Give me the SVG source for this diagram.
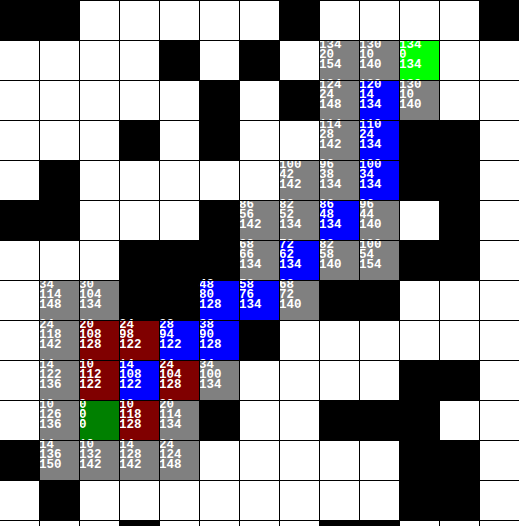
<svg xmlns="http://www.w3.org/2000/svg" width="519" height="526" viewBox="0 0 519 526">
<style>
.w{fill:#ffffff}.b{fill:#000000}.g{fill:#808080}.u{fill:#0000ff}.l{fill:#00ff00}.d{fill:#008000}.r{fill:#800000}
text{font-family:"Liberation Mono","DejaVu Sans Mono",monospace;font-weight:bold;font-size:12.5px;fill:#ffffff}
.grid line{stroke:#000000;stroke-width:1}
</style>
<rect x="0" y="0" width="519" height="526" class="w"/>
<g id="walls" class="b">
<rect x="0" y="0" width="80" height="40"/><rect x="280" y="0" width="40" height="40"/><rect x="480" y="0" width="40" height="40"/>
<rect x="160" y="40" width="40" height="40"/><rect x="240" y="40" width="40" height="40"/>
<rect x="200" y="80" width="40" height="40"/><rect x="280" y="80" width="40" height="40"/>
<rect x="120" y="120" width="40" height="40"/><rect x="200" y="120" width="40" height="40"/><rect x="400" y="120" width="80" height="40"/>
<rect x="40" y="160" width="40" height="40"/><rect x="400" y="160" width="80" height="40"/>
<rect x="0" y="200" width="80" height="40"/><rect x="200" y="200" width="40" height="40"/><rect x="440" y="200" width="40" height="40"/>
<rect x="120" y="240" width="120" height="40"/><rect x="400" y="240" width="80" height="40"/>
<rect x="120" y="280" width="80" height="40"/><rect x="320" y="280" width="80" height="40"/>
<rect x="240" y="320" width="40" height="40"/>
<rect x="400" y="360" width="80" height="40"/>
<rect x="200" y="400" width="40" height="40"/><rect x="320" y="400" width="120" height="40"/>
<rect x="0" y="440" width="40" height="40"/><rect x="400" y="440" width="80" height="40"/>
<rect x="40" y="480" width="40" height="40"/><rect x="400" y="480" width="80" height="40"/>
<rect x="120" y="520" width="40" height="40"/><rect x="320" y="520" width="80" height="40"/>
</g>
<g id="cells">
<g id="c8_1"><rect x="320" y="40" width="40" height="40" class="g"/><text x="319" y="48">134</text><text x="319" y="58">20</text><text x="319" y="68">154</text></g>
<g id="c9_1"><rect x="360" y="40" width="40" height="40" class="g"/><text x="359" y="48">130</text><text x="359" y="58">10</text><text x="359" y="68">140</text></g>
<g id="c10_1"><rect x="400" y="40" width="40" height="40" class="l"/><text x="399" y="48">134</text><text x="399" y="58">0</text><text x="399" y="68">134</text></g>
<g id="c8_2"><rect x="320" y="80" width="40" height="40" class="g"/><text x="319" y="88">124</text><text x="319" y="98">24</text><text x="319" y="108">148</text></g>
<g id="c9_2"><rect x="360" y="80" width="40" height="40" class="u"/><text x="359" y="88">120</text><text x="359" y="98">14</text><text x="359" y="108">134</text></g>
<g id="c10_2"><rect x="400" y="80" width="40" height="40" class="g"/><text x="399" y="88">130</text><text x="399" y="98">10</text><text x="399" y="108">140</text></g>
<g id="c8_3"><rect x="320" y="120" width="40" height="40" class="g"/><text x="319" y="128">114</text><text x="319" y="138">28</text><text x="319" y="148">142</text></g>
<g id="c9_3"><rect x="360" y="120" width="40" height="40" class="u"/><text x="359" y="128">110</text><text x="359" y="138">24</text><text x="359" y="148">134</text></g>
<g id="c7_4"><rect x="280" y="160" width="40" height="40" class="g"/><text x="279" y="168">100</text><text x="279" y="178">42</text><text x="279" y="188">142</text></g>
<g id="c8_4"><rect x="320" y="160" width="40" height="40" class="g"/><text x="319" y="168">96</text><text x="319" y="178">38</text><text x="319" y="188">134</text></g>
<g id="c9_4"><rect x="360" y="160" width="40" height="40" class="u"/><text x="359" y="168">100</text><text x="359" y="178">34</text><text x="359" y="188">134</text></g>
<g id="c6_5"><rect x="240" y="200" width="40" height="40" class="g"/><text x="239" y="208">86</text><text x="239" y="218">56</text><text x="239" y="228">142</text></g>
<g id="c7_5"><rect x="280" y="200" width="40" height="40" class="g"/><text x="279" y="208">82</text><text x="279" y="218">52</text><text x="279" y="228">134</text></g>
<g id="c8_5"><rect x="320" y="200" width="40" height="40" class="u"/><text x="319" y="208">86</text><text x="319" y="218">48</text><text x="319" y="228">134</text></g>
<g id="c9_5"><rect x="360" y="200" width="40" height="40" class="g"/><text x="359" y="208">96</text><text x="359" y="218">44</text><text x="359" y="228">140</text></g>
<g id="c6_6"><rect x="240" y="240" width="40" height="40" class="g"/><text x="239" y="248">68</text><text x="239" y="258">66</text><text x="239" y="268">134</text></g>
<g id="c7_6"><rect x="280" y="240" width="40" height="40" class="u"/><text x="279" y="248">72</text><text x="279" y="258">62</text><text x="279" y="268">134</text></g>
<g id="c8_6"><rect x="320" y="240" width="40" height="40" class="g"/><text x="319" y="248">82</text><text x="319" y="258">58</text><text x="319" y="268">140</text></g>
<g id="c9_6"><rect x="360" y="240" width="40" height="40" class="g"/><text x="359" y="248">100</text><text x="359" y="258">54</text><text x="359" y="268">154</text></g>
<g id="c1_7"><rect x="40" y="280" width="40" height="40" class="g"/><text x="39" y="288">34</text><text x="39" y="298">114</text><text x="39" y="308">148</text></g>
<g id="c2_7"><rect x="80" y="280" width="40" height="40" class="g"/><text x="79" y="288">30</text><text x="79" y="298">104</text><text x="79" y="308">134</text></g>
<g id="c5_7"><rect x="200" y="280" width="40" height="40" class="u"/><text x="199" y="288">48</text><text x="199" y="298">80</text><text x="199" y="308">128</text></g>
<g id="c6_7"><rect x="240" y="280" width="40" height="40" class="u"/><text x="239" y="288">58</text><text x="239" y="298">76</text><text x="239" y="308">134</text></g>
<g id="c7_7"><rect x="280" y="280" width="40" height="40" class="g"/><text x="279" y="288">68</text><text x="279" y="298">72</text><text x="279" y="308">140</text></g>
<g id="c1_8"><rect x="40" y="320" width="40" height="40" class="g"/><text x="39" y="328">24</text><text x="39" y="338">118</text><text x="39" y="348">142</text></g>
<g id="c2_8"><rect x="80" y="320" width="40" height="40" class="r"/><text x="79" y="328">20</text><text x="79" y="338">108</text><text x="79" y="348">128</text></g>
<g id="c3_8"><rect x="120" y="320" width="40" height="40" class="r"/><text x="119" y="328">24</text><text x="119" y="338">98</text><text x="119" y="348">122</text></g>
<g id="c4_8"><rect x="160" y="320" width="40" height="40" class="u"/><text x="159" y="328">28</text><text x="159" y="338">94</text><text x="159" y="348">122</text></g>
<g id="c5_8"><rect x="200" y="320" width="40" height="40" class="u"/><text x="199" y="328">38</text><text x="199" y="338">90</text><text x="199" y="348">128</text></g>
<g id="c1_9"><rect x="40" y="360" width="40" height="40" class="g"/><text x="39" y="368">14</text><text x="39" y="378">122</text><text x="39" y="388">136</text></g>
<g id="c2_9"><rect x="80" y="360" width="40" height="40" class="r"/><text x="79" y="368">10</text><text x="79" y="378">112</text><text x="79" y="388">122</text></g>
<g id="c3_9"><rect x="120" y="360" width="40" height="40" class="u"/><text x="119" y="368">14</text><text x="119" y="378">108</text><text x="119" y="388">122</text></g>
<g id="c4_9"><rect x="160" y="360" width="40" height="40" class="r"/><text x="159" y="368">24</text><text x="159" y="378">104</text><text x="159" y="388">128</text></g>
<g id="c5_9"><rect x="200" y="360" width="40" height="40" class="g"/><text x="199" y="368">34</text><text x="199" y="378">100</text><text x="199" y="388">134</text></g>
<g id="c1_10"><rect x="40" y="400" width="40" height="40" class="g"/><text x="39" y="408">10</text><text x="39" y="418">126</text><text x="39" y="428">136</text></g>
<g id="c2_10"><rect x="80" y="400" width="40" height="40" class="d"/><text x="79" y="408">0</text><text x="79" y="418">0</text><text x="79" y="428">0</text></g>
<g id="c3_10"><rect x="120" y="400" width="40" height="40" class="r"/><text x="119" y="408">10</text><text x="119" y="418">118</text><text x="119" y="428">128</text></g>
<g id="c4_10"><rect x="160" y="400" width="40" height="40" class="g"/><text x="159" y="408">20</text><text x="159" y="418">114</text><text x="159" y="428">134</text></g>
<g id="c1_11"><rect x="40" y="440" width="40" height="40" class="g"/><text x="39" y="448">14</text><text x="39" y="458">136</text><text x="39" y="468">150</text></g>
<g id="c2_11"><rect x="80" y="440" width="40" height="40" class="g"/><text x="79" y="448">10</text><text x="79" y="458">132</text><text x="79" y="468">142</text></g>
<g id="c3_11"><rect x="120" y="440" width="40" height="40" class="g"/><text x="119" y="448">14</text><text x="119" y="458">128</text><text x="119" y="468">142</text></g>
<g id="c4_11"><rect x="160" y="440" width="40" height="40" class="g"/><text x="159" y="448">24</text><text x="159" y="458">124</text><text x="159" y="468">148</text></g>
</g>
<g id="grid" class="grid">
<line x1="39.5" y1="0" x2="39.5" y2="526"/><line x1="79.5" y1="0" x2="79.5" y2="526"/><line x1="119.5" y1="0" x2="119.5" y2="526"/><line x1="159.5" y1="0" x2="159.5" y2="526"/><line x1="199.5" y1="0" x2="199.5" y2="526"/><line x1="239.5" y1="0" x2="239.5" y2="526"/><line x1="279.5" y1="0" x2="279.5" y2="526"/><line x1="319.5" y1="0" x2="319.5" y2="526"/><line x1="359.5" y1="0" x2="359.5" y2="526"/><line x1="399.5" y1="0" x2="399.5" y2="526"/><line x1="439.5" y1="0" x2="439.5" y2="526"/><line x1="479.5" y1="0" x2="479.5" y2="526"/>
<line x1="0" y1="0.5" x2="519" y2="0.5"/><line x1="0" y1="40.5" x2="519" y2="40.5"/><line x1="0" y1="80.5" x2="519" y2="80.5"/><line x1="0" y1="120.5" x2="519" y2="120.5"/><line x1="0" y1="160.5" x2="519" y2="160.5"/><line x1="0" y1="200.5" x2="519" y2="200.5"/><line x1="0" y1="240.5" x2="519" y2="240.5"/><line x1="0" y1="280.5" x2="519" y2="280.5"/><line x1="0" y1="320.5" x2="519" y2="320.5"/><line x1="0" y1="360.5" x2="519" y2="360.5"/><line x1="0" y1="400.5" x2="519" y2="400.5"/><line x1="0" y1="440.5" x2="519" y2="440.5"/><line x1="0" y1="480.5" x2="519" y2="480.5"/><line x1="0" y1="520.5" x2="519" y2="520.5"/>
</g>
</svg>
